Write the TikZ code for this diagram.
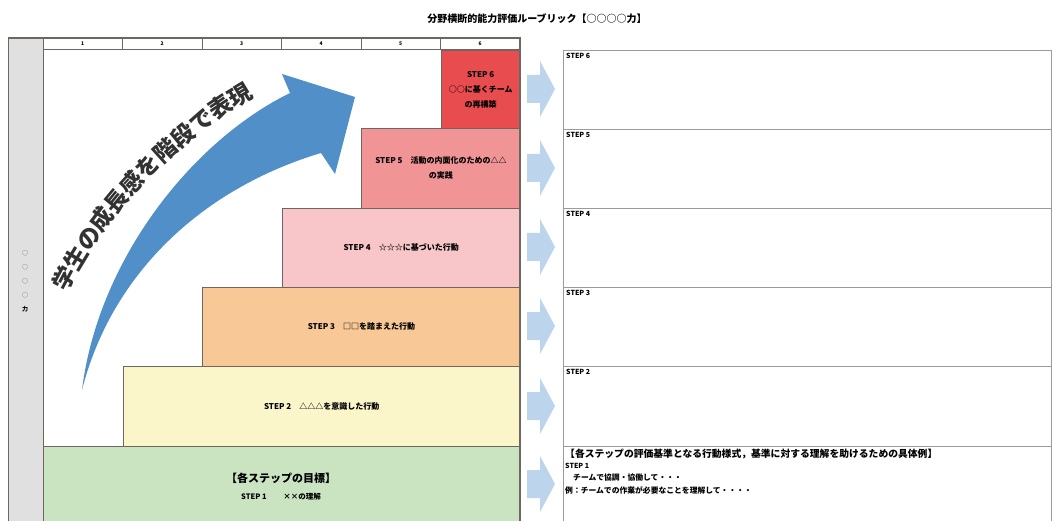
\documentclass[tikz,border=0pt]{standalone}
\usepackage{fontspec}
\setmainfont{Noto Sans CJK JP}
\usetikzlibrary{decorations.text}
\definecolor{stepsix}{RGB}{232,76,78}
\definecolor{stepfive}{RGB}{240,148,150}
\definecolor{stepfour}{RGB}{248,198,200}
\definecolor{stepthree}{RGB}{248,200,150}
\definecolor{steptwo}{RGB}{250,246,202}
\definecolor{stepone}{RGB}{202,228,194}
\definecolor{colgray}{RGB}{224,224,224}
\definecolor{frameline}{RGB}{110,102,96}
\definecolor{panelline}{RGB}{160,154,150}
\definecolor{bigarrow}{RGB}{80,143,199}
\definecolor{smallarrow}{RGB}{189,213,236}
\definecolor{arrowtext}{RGB}{50,50,50}

\begin{document}
\begin{tikzpicture}[x=1pt, y=-1pt, font=\bfseries,
  stepbox/.style={draw=frameline, line width=0.8pt, anchor=north west, inner sep=0pt, align=center, font=\bfseries\fontsize{8}{15}\selectfont},
  headcell/.style={draw=frameline, line width=1pt, minimum width=79.5, minimum height=12, inner sep=0pt, font=\bfseries\fontsize{5}{5}\selectfont},
  rowbox/.style={draw=panelline, line width=1.3pt, anchor=north west, minimum width=488, inner sep=0pt},
  rowlabel/.style={anchor=north west, inner sep=0pt, font=\bfseries\fontsize{7}{8}\selectfont}]
\useasboundingbox (0,0) rectangle (1054,521);
\clip (0,0) rectangle (1054,521);
\fill[white] (0,0) rectangle (1054,521);

% title
\node[font=\bfseries\fontsize{10}{10}\selectfont] (title) at (537,19) {分野横断的能力評価ルーブリック【○○○○力】};

% left table
\node[draw=frameline, line width=1pt, fill=colgray, anchor=north west, minimum width=35, minimum height=495, inner sep=0pt] (labelcol) at (8,38) {};
\node[align=center, text=black!55, font=\bfseries\fontsize{6}{14}\selectfont] (ability) at (25,281) {○\\○\\○\\○\\\textcolor{black}{力}};
\foreach \i in {1,...,6}
  \node[headcell] (h\i) at ({43+(\i-0.5)*79.5},44) {\i};

% steps
\node[stepbox, fill=stepone, minimum width=477, minimum height=90] (s1) at (43,446) {};
\node[align=center, font=\bfseries\fontsize{11}{11}\selectfont] (s1goal) at (281,478) {【各ステップの目標】};
\node[font=\bfseries\fontsize{7.5}{8}\selectfont] (s1text) at (281,497) {STEP 1\hspace{2.2em}××の理解};
\node[stepbox, fill=steptwo, minimum width=397.5, minimum height=80] (s2) at (122.5,366) {STEP 2\quad △△△を意識した行動};
\node[stepbox, fill=stepthree, minimum width=318, minimum height=79] (s3) at (202,287) {STEP 3\quad □□を踏まえた行動};
\node[stepbox, fill=stepfour, minimum width=238.5, minimum height=79] (s4) at (281.5,208) {STEP 4\quad ☆☆☆に基づいた行動};
\node[stepbox, fill=stepfive, minimum width=159, minimum height=80] (s5) at (361,128) {STEP 5\quad 活動の内面化のための△△\\の実践};
\node[stepbox, fill=stepsix, minimum width=79.5, minimum height=78] (s6) at (440.5,50) {STEP 6\\○○に基くチーム\\の再構築};
\draw[frameline, line width=1.2pt] (8,38) -- (520,38) -- (520,530);

% growth arrow
\fill[bigarrow] (82,390) .. controls (98,260) and (192,141) .. (290,93) -- (282,74) -- (355,97) -- (335,174)
  -- (321,153) .. controls (204,188) and (112,272) .. (82,390) -- cycle;
\path[decorate, decoration={text along path, text align=center,
  text={|\fontsize{23}{23}\selectfont\bfseries\color{arrowtext}|学生の成長感を階段で表現}}]
  (58,311) .. controls (97,223) and (171,139) .. (272,87);

% small arrows
\foreach \c in {89,168,247,326,406,484}
  \fill[smallarrow] (527,\c-14) -- (540,\c-14) -- (540,\c-28) -- (555,\c) -- (540,\c+28) -- (540,\c+14) -- (527,\c+14) -- cycle;

% right panel
\node[rowbox, minimum height=79] (r6) at (563,50) {};
\node[rowbox, minimum height=79] (r5) at (563,129) {};
\node[rowbox, minimum height=79] (r4) at (563,208) {};
\node[rowbox, minimum height=79] (r3) at (563,287) {};
\node[rowbox, minimum height=80] (r2) at (563,366) {};
\node[rowbox, minimum height=90] (r1) at (563,446) {};
\foreach \n in {6,5,4,3,2}
  \node[rowlabel] (r\n t) at ([shift={(3,3)}]r\n.north west) {STEP \n};
\node[rowlabel, font=\bfseries\fontsize{9.8}{10}\selectfont] (r1t) at ([shift={(2,3)}]r1.north west) {【各ステップの評価基準となる行動様式，基準に対する理解を助けるための具体例】};
\node[rowlabel] (r1a) at ([shift={(0,4)}]r1t.south west) {STEP 1};
\node[rowlabel, font=\bfseries\fontsize{7.8}{8}\selectfont] (r1b) at ([shift={(8,4)}]r1a.south west) {チームで協調・協働して・・・};
\node[rowlabel, font=\bfseries\fontsize{7.8}{8}\selectfont] (r1c) at ([shift={(-8,5)}]r1b.south west) {例：チームでの作業が必要なことを理解して・・・・};
\end{tikzpicture}
\end{document}
